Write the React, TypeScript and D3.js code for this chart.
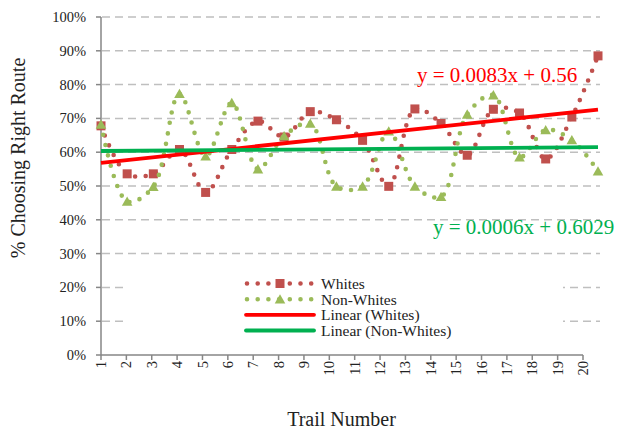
import * as d3 from 'd3';

const TRIALS = [1, 2, 3, 4, 5, 6, 7, 8, 9, 10, 11, 12, 13, 14, 15, 16, 17, 18, 19, 20];
const WHITES = [0.678, 0.536, 0.536, 0.608, 0.481, 0.608, 0.692, 0.645, 0.720, 0.696, 0.635, 0.499, 0.728, 0.685, 0.591, 0.727, 0.716, 0.580, 0.704, 0.885];
const NON_WHITES = [0.682, 0.454, 0.498, 0.773, 0.588, 0.746, 0.550, 0.648, 0.685, 0.499, 0.499, 0.662, 0.499, 0.468, 0.712, 0.769, 0.585, 0.666, 0.636, 0.544];
const Y_TICKS = [0, 0.1, 0.2, 0.3, 0.4, 0.5, 0.6, 0.7, 0.8, 0.9, 1];

// trendline coefficients as printed on the chart
const TREND_WHITES = { slope: 0.0083, intercept: 0.56, label: 'y = 0.0083x + 0.56' };
const TREND_NON_WHITES = { slope: 0.0006, intercept: 0.6029, label: 'y = 0.0006x + 0.6029' };

const LEGEND = ['Whites', 'Non-Whites', 'Linear (Whites)', 'Linear (Non-Whites)'];

const RED_MARK = '#C0504D';
const GREEN_MARK = '#9BBB59';
const RED_TREND = '#FF0000';
const GREEN_TREND = '#00B050';
const AXIS = '#868686';
const GRID = '#BFBFBF';
const FONT = '"Liberation Serif", "Times New Roman", serif';

const W = 620;
const H = 431;

export default function App() {
  // the plotted points sit on a slightly wider scale than the category ticks below them
  const x = d3.scaleLinear().domain([1, 20]).range([101, 598]);
  const xAxis = d3.scaleLinear().domain([1, 20]).range([101, 583]);
  const y = d3.scaleLinear().domain([0, 1]).range([355, 17]);

  const line = d3.line<number>()
    .x((_, i) => x(TRIALS[i]))
    .y(d => y(d))
    .curve(d3.curveCatmullRom.alpha(0.5));

  const trend = (t: { slope: number; intercept: number }) => {
    const [a, b] = d3.extent(TRIALS) as [number, number];
    return `M${x(a)},${y(t.intercept + t.slope * a)} L${x(b)},${y(t.intercept + t.slope * b)}`;
  };

  const square = (cx: number, cy: number, key: any) => (
    <rect key={key} x={cx - 4.5} y={cy - 4.5} width={9} height={9} fill={RED_MARK} />
  );
  const triangle = (cx: number, cy: number, key: any) => (
    <path key={key} d={`M${cx},${cy - 5} L${cx + 5.3},${cy + 4.3} L${cx - 5.3},${cy + 4.3} Z`} fill={GREEN_MARK} />
  );

  const legendRows = [283.5, 299.3, 314.8, 330.5];

  return (
    <svg width={W} height={H} style={{ position: 'absolute', left: 0, top: 0, fontFamily: FONT, background: 'white' }}>
      {/* gridlines */}
      {Y_TICKS.slice(1).map(t => (
        <line key={t} x1={102} x2={600} y1={y(t)} y2={y(t)} stroke={GRID} strokeWidth={1.5} strokeDasharray="8 5" />
      ))}

      {/* axes */}
      <line x1={101} x2={101} y1={y(1)} y2={y(0)} stroke={AXIS} strokeWidth={1.5} />
      {Y_TICKS.map(t => (
        <g key={t}>
          <line x1={96} x2={101} y1={y(t)} y2={y(t)} stroke={AXIS} strokeWidth={1.5} />
          <text x={86} y={y(t)} dy="0.35em" textAnchor="end" fontSize={14.5} fill="#222">
            {Math.round(t * 100)}%
          </text>
        </g>
      ))}
      <line x1={101} x2={xAxis(20)} y1={y(0)} y2={y(0)} stroke={AXIS} strokeWidth={1.5} />
      {TRIALS.map(t => (
        <g key={t}>
          <line x1={xAxis(t)} x2={xAxis(t)} y1={y(0)} y2={y(0) + 5} stroke={AXIS} strokeWidth={1.5} />
          <text transform={`translate(${xAxis(t)},361) rotate(-90)`} dy="0.35em" textAnchor="end" fontSize={14.5} fill="#222">
            {t}
          </text>
        </g>
      ))}

      {/* legend box hides the grid behind it */}
      <rect x={128} y={262} width={435} height={86} fill="white" />

      {/* series */}
      <path d={line(WHITES) ?? ''} fill="none" stroke={RED_MARK} strokeWidth={4.6} strokeDasharray="0 10.6" strokeLinecap="round" />
      {WHITES.map((v, i) => square(x(TRIALS[i]), y(v), i))}
      <path d={line(NON_WHITES) ?? ''} fill="none" stroke={GREEN_MARK} strokeWidth={4.6} strokeDasharray="0 10.6" strokeLinecap="round" />
      {NON_WHITES.map((v, i) => triangle(x(TRIALS[i]), y(v), i))}

      {/* trendlines */}
      <path d={trend(TREND_WHITES)} stroke={RED_TREND} strokeWidth={3.8} fill="none" />
      <path d={trend(TREND_NON_WHITES)} stroke={GREEN_TREND} strokeWidth={3.8} fill="none" />

      <text x={417} y={81.5} fontSize={21} fill={RED_TREND}>{TREND_WHITES.label}</text>
      <text x={433} y={234} fontSize={21} fill={GREEN_TREND}>{TREND_NON_WHITES.label}</text>

      {/* legend */}
      {LEGEND.map((name, i) => {
        const ly = legendRows[i];
        let sample;
        if (i < 2) {
          const c = i === 0 ? RED_MARK : GREEN_MARK;
          sample = (
            <g>
              <line x1={247} x2={312} y1={ly} y2={ly} stroke={c} strokeWidth={4.6} strokeDasharray="0 10.7" strokeLinecap="round" />
              {i === 0 ? square(280, ly, 'm') : triangle(280, ly, 'm')}
            </g>
          );
        } else {
          sample = (
            <line x1={246} x2={314} y1={ly} y2={ly} stroke={i === 2 ? RED_TREND : GREEN_TREND} strokeWidth={3.8} strokeLinecap="round" />
          );
        }
        return (
          <g key={name}>
            {sample}
            <text x={321} y={ly} dy="0.35em" fontSize={15.5} fill="#222">{name}</text>
          </g>
        );
      })}

      {/* axis titles */}
      <text transform="translate(25,158) rotate(-90)" textAnchor="middle" fontSize={20} fill="#222">% Choosing Right Route</text>
      <text x={341.5} y={426} textAnchor="middle" fontSize={20} fill="#222">Trail Number</text>
    </svg>
  );
}
